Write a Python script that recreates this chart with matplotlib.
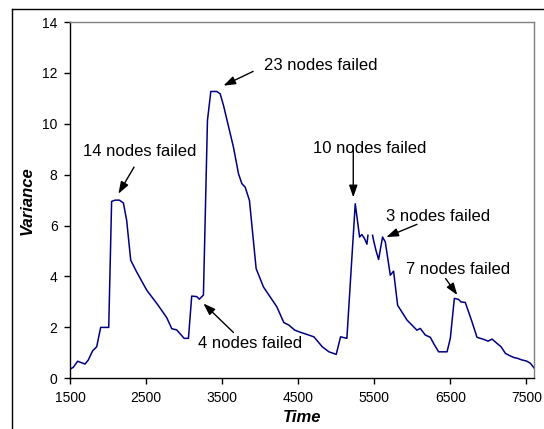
import numpy as np
import matplotlib.pyplot as plt
from matplotlib.lines import Line2D

plt.rcParams['font.family'] = ['Liberation Sans', 'DejaVu Sans']

# variance of the readings over time (NaN = no sample)
time = [1500, 1543, 1600, 1697, 1741, 1797, 1851, 1903, 2009, 2047, 2092, 2149,
        2202, 2245, 2298, 2376, 2450, 2509, 2580, 2641, 2710, 2772, 2838, 2903,
        3000, 3057, 3100, 3166, 3200, 3254, 3307, 3351, 3430, 3474, 3518, 3649,
        3715, 3759, 3803, 3859, 3947, 4043, 4219, 4311, 4377, 4456, 4509, 4706,
        4816, 4904, 5000, 5057, 5140, 5250, 5307, 5337, 5372, 5404, 5417, 5450,
        5478, 5491, 5522, 5557, 5609, 5645, 5711, 5754, 5807, 5930, 6061, 6105,
        6171, 6237, 6280, 6346, 6457, 6500, 6553, 6609, 6640, 6697, 6785, 6851,
        6938, 6996, 7049, 7114, 7167, 7224, 7280, 7333, 7386, 7443, 7500, 7553,
        7605]
variance = [0.36, 0.43, 0.67, 0.56, 0.72, 1.08, 1.24, 2.0, 2.0, 6.95, 7.0, 7.0,
            6.89, 6.2, 4.64, 4.18, 3.78, 3.46, 3.18, 2.94, 2.65, 2.38, 1.95, 1.9,
            1.57, 1.57, 3.23, 3.21, 3.11, 3.27, 10.13, 11.27, 11.27, 11.18, 10.72, 9.08,
            8.04, 7.65, 7.51, 6.99, 4.31, 3.59, 2.81, 2.19, 2.09, 1.89, 1.83, 1.63,
            1.24, 1.04, 0.94, 1.63, 1.57, 6.86, 5.55, 5.65, 5.49, 5.27, 5.62, np.nan,
            5.62, 5.42, 5.03, 4.67, 5.55, 5.36, 4.05, 4.21, 2.87, 2.29, 1.89, 1.96,
            1.70, 1.61, 1.37, 1.04, 1.04, 1.57, 3.14, 3.10, 3.0, 2.98, 2.22, 1.61,
            1.53, 1.46, 1.54, 1.37, 1.24, 0.98, 0.89, 0.82, 0.78, 0.72, 0.68, 0.59,
            0.39]

x_ticks = [1500, 2500, 3500, 4500, 5500, 6500, 7500]
y_ticks = [0, 2, 4, 6, 8, 10, 12, 14]

# failure events: label, text position, arrow tail, arrow tip
events = [
    ("14 nodes failed", (2421, 8.72), (2342, 8.30), (2136, 7.25)),
    ("23 nodes failed", (4803, 12.12), (3908, 12.06), (3517, 11.50)),
    ("4 nodes failed", (3862, 1.18), (3649, 1.80), (3254, 2.94)),
    ("10 nodes failed", (5441, 8.86), (5224, 9.1), (5224, 7.11)),
    ("3 nodes failed", (6342, 6.17), (6062, 6.05), (5658, 5.55)),
    ("7 nodes failed", (6601, 4.08), (6438, 3.92), (6592, 3.27)),
]

fig = plt.figure(figsize=(5.44, 4.29), dpi=100)
ax = fig.add_axes([0.1287, 0.1182, 0.8529, 0.8305])

ax.plot(time, variance, color='#000080', lw=1.1)

for label, txt, tail, tip in events:
    ax.text(txt[0], txt[1], label, ha='center', va='baseline', fontsize=12)
    ax.annotate('', xy=tip, xytext=tail,
                arrowprops=dict(arrowstyle='-|>,head_length=0.8,head_width=0.28',
                                color='black', lw=1, mutation_scale=9,
                                shrinkA=0, shrinkB=0))

ax.set_xlim(1500, 7600)
ax.set_ylim(0, 14)
ax.set_xticks(x_ticks)
ax.set_yticks(y_ticks)
ax.tick_params(direction='out', length=4, width=1, labelsize=10, pad=5)
ax.set_xlabel('Time', fontsize=12, fontweight='bold', fontstyle='italic', labelpad=4)
ax.set_ylabel('Variance', fontsize=12, fontweight='bold', fontstyle='italic', labelpad=5)

for side in ['left', 'bottom']:
    ax.spines[side].set_color('black')
    ax.spines[side].set_linewidth(1)
for side in ['top', 'right']:
    ax.spines[side].set_color('#808080')
    ax.spines[side].set_linewidth(1)

# outer chart frame
fig.add_artist(Line2D([0.0226, 0.0226], [0, 0.978], color='black', lw=1,
                      transform=fig.transFigure))
fig.add_artist(Line2D([0.0226, 1.0], [0.978, 0.978], color='black', lw=1,
                      transform=fig.transFigure))

fig.savefig('out.png', dpi=100)
